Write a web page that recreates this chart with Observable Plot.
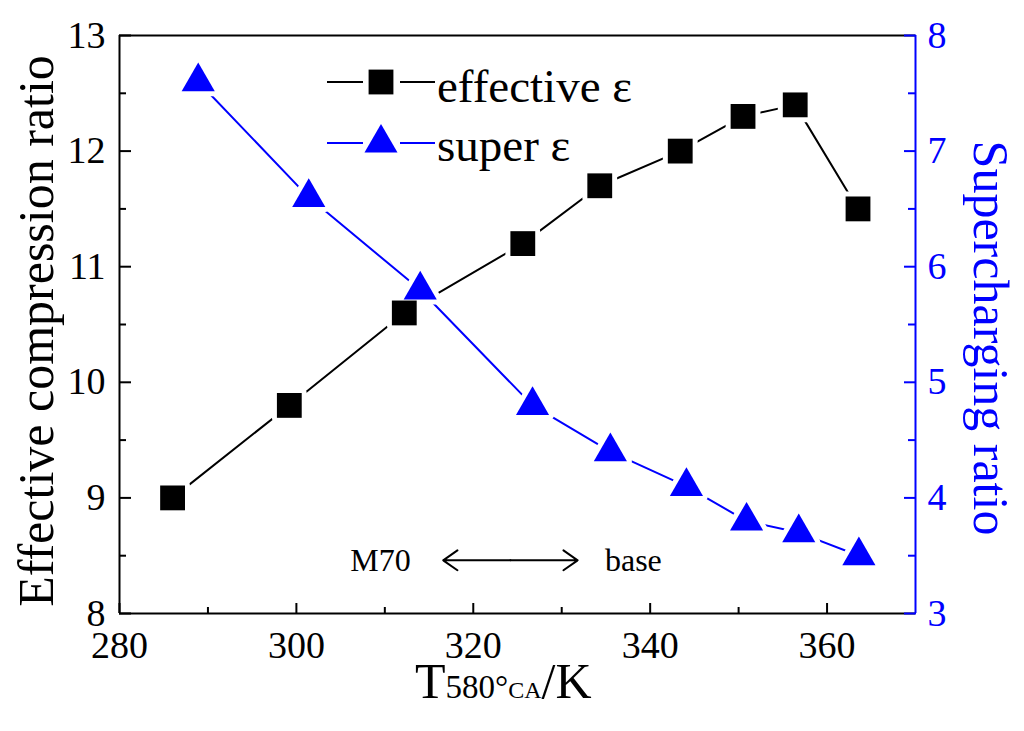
<!DOCTYPE html>
<html>
<head>
<meta charset="utf-8">
<script src="https://cdn.jsdelivr.net/npm/d3@7"></script>
<script src="https://cdn.jsdelivr.net/npm/@observablehq/plot@0.6"></script>
<style>
  body { margin: 0; background: #fff; }
  #chart svg { display: block; }
</style>
</head>
<body>
<div id="chart"></div>
<script>
// values
var effTemps = [286.0, 299.2, 312.2, 325.6, 334.3, 343.4, 350.5, 356.4, 363.5];
var effRatio = [9.0, 9.8, 10.6, 11.2, 11.7, 12.0, 12.3, 12.4, 11.5];
var superTemps = [288.9, 301.4, 314.0, 326.7, 335.5, 344.1, 350.9, 356.8, 363.6];
var superRatio = [7.6, 6.6, 5.8, 4.8, 4.4, 4.1, 3.8, 3.7, 3.5];

var xTicks = [280, 300, 320, 340, 360];
var xMinor = [290, 310, 330, 350];
var leftTicks = [8, 9, 10, 11, 12, 13];
var leftMinor = [8.5, 9.5, 10.5, 11.5, 12.5];
var rightTicks = [3, 4, 5, 6, 7, 8];
var rightMinor = [3.5, 4.5, 5.5, 6.5, 7.5];

// annotation: M70 <-> base
var annoText = [{x: 309.5, y: 8.46, t: "M70"}, {x: 338.1, y: 8.46, t: "base"}];
var annoMid = 324.2;
var annoEnds = [316.6, 331.8];
var annoY = 8.46;

var serif = "'Liberation Serif', 'Times New Roman', serif";
var blue = "#0000ff";

// right axis (3..8) is drawn on the left scale (8..13)
var shift = 5;
function toLeft(v) { return v + shift; }
function noLabel() { return ""; }

var effData = effTemps.map(function(t, i) { return {x: t, y: effRatio[i]}; });
var superData = superTemps.map(function(t, i) { return {x: t, y: toLeft(superRatio[i])}; });
var arrowData = annoEnds.map(function(e) { return {x1: annoMid, x2: e, y: annoY}; });

var plot = Plot.plot({
  width: 1024,
  height: 731,
  marginLeft: 119,
  marginRight: 109,
  marginTop: 35,
  marginBottom: 118,
  style: {background: "#fff", fontFamily: serif},
  x: {domain: [280, 370]},
  y: {domain: [8, 13]},
  marks: [
    // frame
    Plot.ruleY([13], {stroke: "#000", strokeWidth: 2}),
    Plot.ruleY([8], {stroke: "#000", strokeWidth: 2}),
    Plot.ruleX([280], {stroke: "#000", strokeWidth: 2}),

    // bottom axis, inward ticks
    Plot.axisX({anchor: "bottom", ticks: xTicks, tickSize: -10, strokeWidth: 2, tickFormat: noLabel, label: null}),
    Plot.axisX({anchor: "bottom", ticks: xMinor, tickSize: -6, strokeWidth: 2, tickFormat: noLabel, label: null}),
    Plot.axisX({anchor: "bottom", ticks: xTicks, tickSize: 0, tickPadding: 18, fontSize: 38, fontFamily: serif, fill: "#000", label: null,
      tickFormat: function(d) { return String(d); }}),

    // left axis
    Plot.axisY({anchor: "left", ticks: leftTicks, tickSize: -12, strokeWidth: 2, tickFormat: noLabel, label: null}),
    Plot.axisY({anchor: "left", ticks: leftMinor, tickSize: -7, strokeWidth: 2, tickFormat: noLabel, label: null}),
    Plot.axisY({anchor: "left", ticks: leftTicks, tickSize: 0, tickPadding: 14, fontSize: 38, fontFamily: serif, fill: "#000", label: null,
      tickFormat: function(d) { return String(d); }}),

    // right axis (blue)
    Plot.ruleX([370], {stroke: blue, strokeWidth: 2}),
    Plot.axisY({anchor: "right", ticks: rightTicks.map(toLeft), tickSize: -12, stroke: blue, strokeWidth: 2, tickFormat: noLabel, label: null}),
    Plot.axisY({anchor: "right", ticks: rightMinor.map(toLeft), tickSize: -8, stroke: blue, strokeWidth: 2, tickFormat: noLabel, label: null}),
    Plot.axisY({anchor: "right", ticks: rightTicks.map(toLeft), tickSize: 0, tickPadding: 12, fontSize: 38, fontFamily: serif, fill: blue, label: null,
      tickFormat: function(d) { return String(d - shift); }}),

    // series lines
    Plot.line(effData, {x: "x", y: "y", stroke: "#000", strokeWidth: 2}),
    Plot.line(superData, {x: "x", y: "y", stroke: blue, strokeWidth: 2}),

    // white gaps around markers
    Plot.dot(effData, {x: "x", y: "y", symbol: "square", r: 14, fill: "#fff", stroke: "#fff", strokeWidth: 10, strokeLinejoin: "round"}),
    Plot.dot(superData, {x: "x", y: "y", symbol: "triangle", r: 12.3, fill: "#fff", stroke: "#fff", strokeWidth: 10, strokeLinejoin: "round"}),

    // markers
    Plot.dot(effData, {x: "x", y: "y", symbol: "square", r: 14, fill: "#000"}),
    Plot.dot(superData, {x: "x", y: "y", symbol: "triangle", r: 12.3, fill: blue}),

    // annotation
    Plot.text(annoText, {x: "x", y: "y", text: "t", fontSize: 32, fontFamily: serif, fill: "#000"}),
    Plot.arrow(arrowData, {x1: "x1", x2: "x2", y1: "y", y2: "y", stroke: "#000", strokeWidth: 2, headLength: 13, headAngle: 70})
  ]
});

document.getElementById("chart").appendChild(plot);

var svg = d3.select(plot);

// axis titles
svg.append("text")
  .attr("transform", "translate(53,331) rotate(-90)")
  .attr("text-anchor", "middle")
  .style("font-family", serif).attr("font-size", 50).attr("fill", "#000")
  .text("Effective compression ratio");

svg.append("text")
  .attr("transform", "translate(974,338) rotate(90)")
  .attr("text-anchor", "middle")
  .style("font-family", serif).attr("font-size", 50).attr("fill", blue)
  .text("Supercharging ratio");

var xt = svg.append("text")
  .attr("x", 415).attr("y", 698)
  .attr("text-anchor", "start")
  .style("font-family", serif).attr("fill", "#000");
xt.append("tspan").attr("font-size", 50).text("T");
xt.append("tspan").attr("font-size", 33).text("580°");
xt.append("tspan").attr("font-size", 24).text("CA");
xt.append("tspan").attr("font-size", 50).text("/K");

// legend
var legend = [
  {label: "effective ε", color: "#000", symbol: d3.symbolSquare, size: 616, y: 82, base: 102},
  {label: "super ε", color: blue, symbol: d3.symbolTriangle, size: 472, y: 143, base: 161}
];
var lg = svg.append("g");
legend.forEach(function(d) {
  lg.append("line").attr("x1", 327).attr("x2", 363).attr("y1", d.y).attr("y2", d.y)
    .attr("stroke", d.color).attr("stroke-width", 2);
  lg.append("line").attr("x1", 400).attr("x2", 435).attr("y1", d.y).attr("y2", d.y)
    .attr("stroke", d.color).attr("stroke-width", 2);
  lg.append("path").attr("d", d3.symbol(d.symbol, d.size)())
    .attr("transform", "translate(381," + d.y + ")").attr("fill", d.color);
  lg.append("text").attr("x", 437).attr("y", d.base)
    .attr("text-anchor", "start")
    .style("font-family", serif).attr("font-size", 47).attr("fill", "#000")
    .text(d.label);
});
</script>
</body>
</html>
